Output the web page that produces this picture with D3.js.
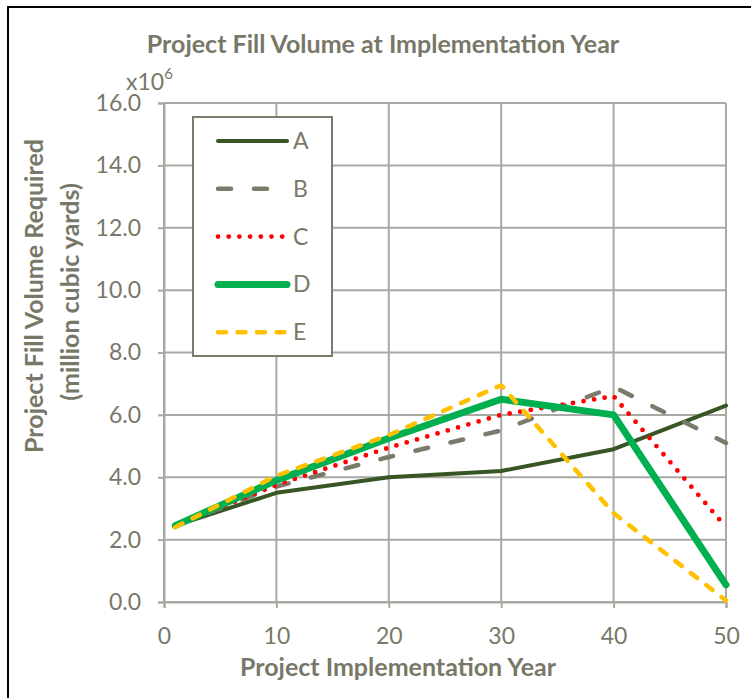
<!DOCTYPE html>
<html>
<head>
<meta charset="utf-8">
<script src="https://cdn.jsdelivr.net/npm/d3@7/dist/d3.min.js"></script>
<style>
  html, body { margin: 0; padding: 0; background: #fff; }
  svg { display: block; }
  text { font-family: Lato, "Open Sans", sans-serif; }
</style>
</head>
<body>
<svg id="chart" width="751" height="698"></svg>
<script>
// ---- data ----
const years = [1, 10, 20, 30, 40, 50];
const seriesA = [2.45, 3.5, 4.0, 4.2, 4.9, 6.3];
const seriesB = [2.45, 3.7, 4.65, 5.5, 6.9, 5.1];
const seriesC = [2.45, 3.75, 4.95, 6.0, 6.6, 2.4];
const seriesD = [2.45, 3.9, 5.25, 6.5, 6.0, 0.55];
const seriesE = [2.4, 4.05, 5.35, 6.95, 2.85, 0.05];
const seriesNames = ["A", "B", "C", "D", "E"];
const xTicks = [0, 10, 20, 30, 40, 50];
const yTicks = [0, 2, 4, 6, 8, 10, 12, 14, 16];

const styles = {
  A: { color: "#375623", width: 4, dash: null, cap: "round" },
  B: { color: "#7b7b6b", width: 4.5, dash: "13 23", cap: "round" },
  C: { color: "#ff0000", width: 4.8, dash: "0 10.7", cap: "round" },
  D: { color: "#00b050", width: 7, dash: null, cap: "round" },
  E: { color: "#ffc000", width: 4.5, dash: "8 11.5", cap: "round" }
};
const seriesValues = { A: seriesA, B: seriesB, C: seriesC, D: seriesD, E: seriesE };

const svg = d3.select("#chart");
const textColor = "#787868";
const gridColor = "#a9a9a3";

// outer border
svg.append("rect").attr("x", 8).attr("y", 7).attr("width", 900).attr("height", 900)
  .attr("fill", "none").attr("stroke", "#000").attr("stroke-width", 2);

const x = d3.scaleLinear().domain([0, 50]).range([164, 726]);
const y = d3.scaleLinear().domain([0, 16]).range([602, 103]);

// gridlines
const grid = svg.append("g");
grid.selectAll("line.h").data(yTicks).join("line")
  .attr("x1", x(0)).attr("x2", x(50))
  .attr("y1", d => y(d)).attr("y2", d => y(d))
  .attr("stroke", gridColor).attr("stroke-width", 2);
grid.selectAll("line.v").data(xTicks).join("line")
  .attr("x1", d => x(d)).attr("x2", d => x(d))
  .attr("y1", y(0)).attr("y2", y(16))
  .attr("stroke", gridColor).attr("stroke-width", 2);

// axes
const yAxis = svg.append("g").attr("transform", `translate(${x(0)},0)`)
  .call(d3.axisLeft(y).tickValues(yTicks).tickFormat(d3.format(".1f")).tickSize(6).tickPadding(17));
const xAxis = svg.append("g").attr("transform", `translate(0,${y(0)})`)
  .call(d3.axisBottom(x).tickValues(xTicks).tickFormat(d3.format("d")).tickSize(6).tickPadding(20));
[yAxis, xAxis].forEach(a => {
  a.select(".domain").attr("stroke", gridColor).attr("stroke-width", 2);
  a.selectAll(".tick line").attr("stroke", gridColor).attr("stroke-width", 2);
  a.selectAll(".tick text").attr("fill", textColor).attr("font-size", 23)
    .style("font-family", "Lato, sans-serif");
});

// lines
const line = d3.line().x((d, i) => x(years[i])).y(d => y(d));
const order = ["A", "B", "C", "D", "E"];
order.forEach(k => {
  const s = styles[k];
  svg.append("path").datum(seriesValues[k])
    .attr("d", line).attr("fill", "none")
    .attr("stroke", s.color).attr("stroke-width", s.width)
    .attr("stroke-linecap", s.cap).attr("stroke-linejoin", "round")
    .attr("stroke-dasharray", s.dash);
});

// legend
const lg = svg.append("g");
lg.append("rect").attr("x", 193).attr("y", 117).attr("width", 139).attr("height", 239)
  .attr("fill", "#fff").attr("stroke", "#7b7b6b").attr("stroke-width", 2);
seriesNames.forEach((k, i) => {
  const s = styles[k];
  const yy = 141 + i * 47.8;
  lg.append("line").attr("x1", 218).attr("x2", 287).attr("y1", yy).attr("y2", yy)
    .attr("stroke", s.color).attr("stroke-width", s.width)
    .attr("stroke-linecap", s.cap).attr("stroke-dasharray", s.dash);
  lg.append("text").attr("x", 293).attr("y", yy + 8).text(k)
    .attr("fill", textColor).attr("font-size", 23);
});

// title
svg.append("text").attr("x", 383).attr("y", 53).attr("text-anchor", "middle")
  .attr("font-size", 25).attr("font-weight", "bold").attr("fill", textColor)
  .text("Project Fill Volume at Implementation Year");

// x10^6
const mult = svg.append("text").attr("x", 126).attr("y", 90).attr("fill", textColor).attr("font-size", 23);
mult.append("tspan").text("x10");
mult.append("tspan").attr("dy", -11).attr("font-size", 15).text("6");

// axis titles
svg.append("text").attr("x", 398).attr("y", 676).attr("text-anchor", "middle")
  .attr("font-size", 25).attr("font-weight", "bold").attr("fill", textColor)
  .text("Project Implementation Year");
const yt = svg.append("text").attr("transform", "translate(0,296) rotate(-90)")
  .attr("text-anchor", "middle").attr("font-size", 25).attr("font-weight", "bold").attr("fill", textColor);
yt.append("tspan").attr("x", 0).attr("y", 43).text("Project Fill Volume Required");
yt.append("tspan").attr("x", 4).attr("y", 79).text("(million cubic yards)");
</script>
</body>
</html>
